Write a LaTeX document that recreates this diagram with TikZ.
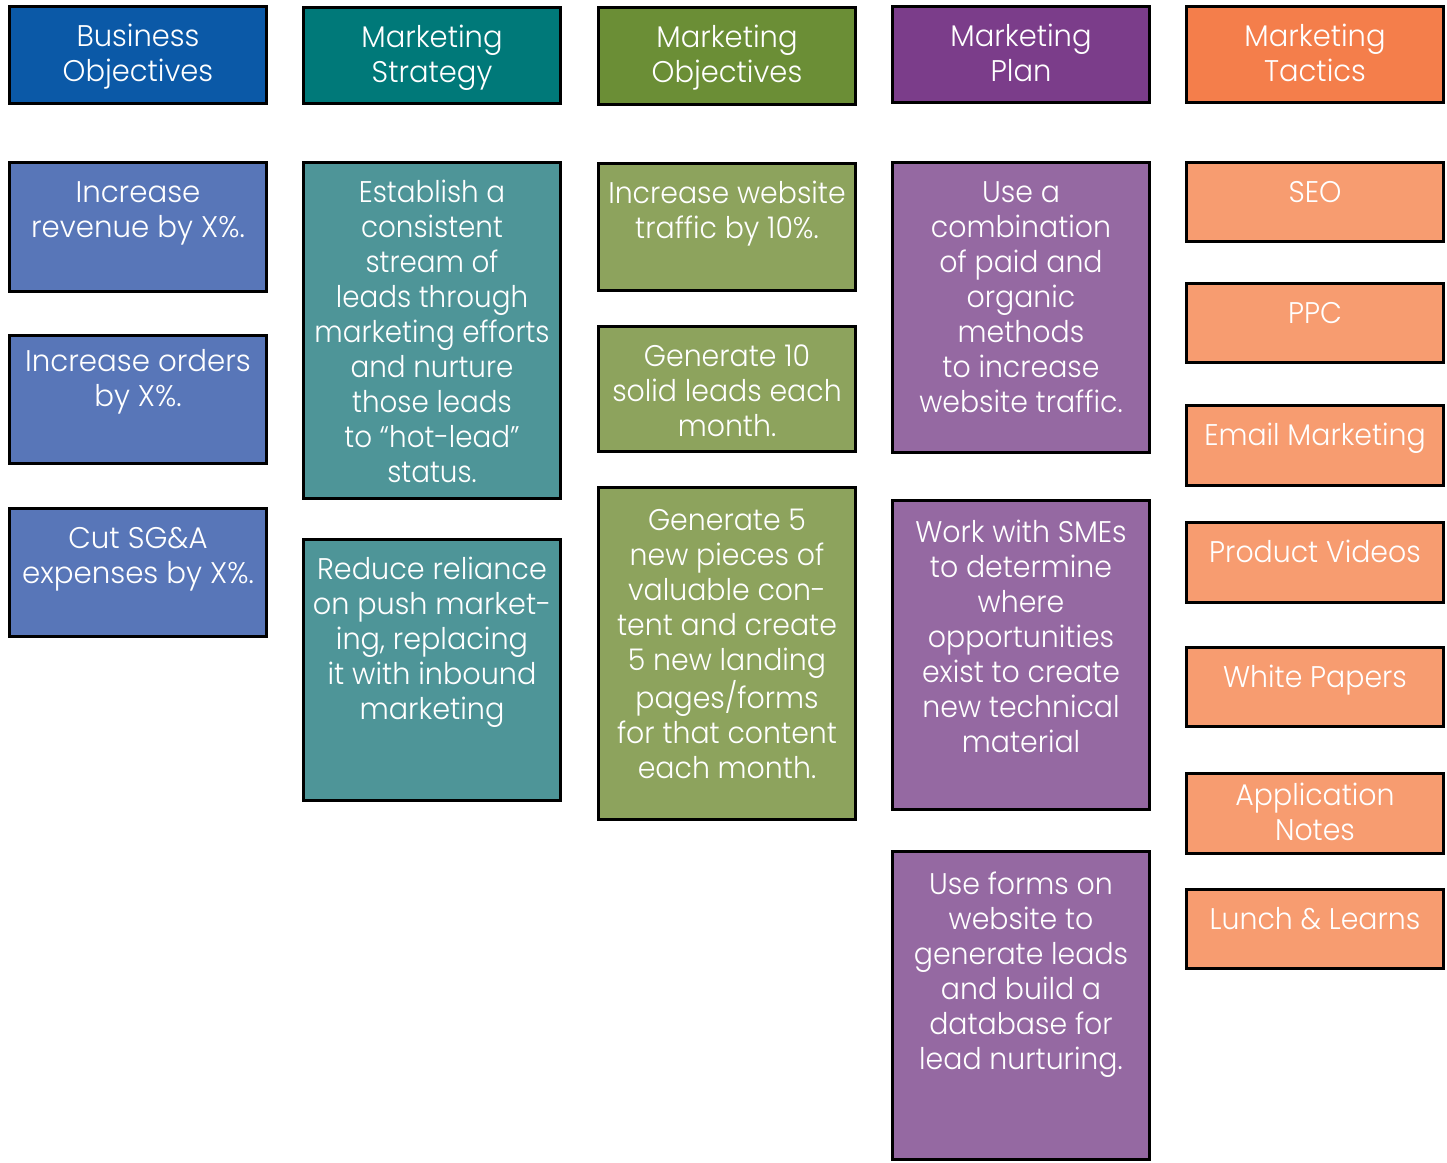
\documentclass[tikz,border=0pt]{standalone}
\usepackage{fontspec}
\setmainfont{Poppins}[UprightFont={* Light}]
\usepackage{graphicx}

\definecolor{hBlue}{HTML}{0B59A7}
\definecolor{hTeal}{HTML}{007979}
\definecolor{hGreen}{HTML}{6B8E36}
\definecolor{hPurple}{HTML}{7B3D8A}
\definecolor{hOrange}{HTML}{F47E4B}
\definecolor{bBlue}{HTML}{5876B8}
\definecolor{bTeal}{HTML}{4E9598}
\definecolor{bGreen}{HTML}{8DA35D}
\definecolor{bPurple}{HTML}{9569A2}
\definecolor{bOrange}{HTML}{F79C70}

\tikzset{
  cellbox/.style={draw=black, line width=0.06cm, inner sep=0pt, anchor=north west},
  celltext/.style={text=white, inner sep=0pt, anchor=north, align=center,
    font=\fontsize{17}{19.9}\selectfont},
}

% [#1 extra text drop], #2 name, #3 x1, #4 y1, #5 x2, #6 y2, #7 fill,
% #8 horizontal squeeze, #9 text
\newcommand\cell[9][0]{%
  \node[cellbox, fill=#7, minimum width={(#5-#3-3)*0.02cm},
        minimum height={(#6-#4-3)*0.02cm}] (#2) at (#3,#4) {};
  \node[celltext] (#2-t) at ([yshift={-0.32cm-(#1)*0.02cm}]#2.north)
    {\scalebox{#8}[1]{\begin{tabular}{@{}c@{}}\rule{0pt}{0.5cm}#9\end{tabular}}};
}

\begin{document}
\begin{tikzpicture}[x=0.02cm, y=-0.02cm]
\useasboundingbox (0,0) rectangle (1447,1163);

% column headings
\cell{h1}{8}{5}{268}{105}{hBlue}{0.97}{Business\\Objectives}
\cell{h2}{302}{6}{562}{105}{hTeal}{0.97}{Marketing\\Strategy}
\cell{h3}{597}{6}{857}{106}{hGreen}{0.97}{Marketing\\Objectives}
\cell{h4}{891}{5}{1151}{104}{hPurple}{0.97}{Marketing\\Plan}
\cell{h5}{1185}{5}{1445}{104}{hOrange}{0.97}{Marketing\\Tactics}

% business objectives
\cell{bo1}{8}{161}{268}{293}{bBlue}{0.98}{Increase\\revenue by X\%.}
\cell[-4]{bo2}{8}{334}{268}{465}{bBlue}{0.98}{Increase orders\\by X\%.}
\cell{bo3}{8}{507}{268}{638}{bBlue}{0.98}{Cut SG\&A\\expenses by X\%.}

% marketing strategy
\cell{ms1}{302}{161}{562}{500}{bTeal}{0.93}{Establish a\\consistent\\stream of\\leads through\\marketing efforts\\and nurture\\those leads\\to “hot-lead”\\status.}
\cell{ms2}{302}{538}{562}{802}{bTeal}{0.96}{Reduce reliance\\on push market-\\ing, replacing\\it with inbound\\marketing}

% marketing objectives
\cell{mo1}{597}{162}{857}{292}{bGreen}{0.95}{Increase website\\traffic by 10\%.}
\cell{mo2}{597}{325}{857}{453}{bGreen}{0.95}{Generate 10\\solid leads each\\month.}
\cell[3]{mo3}{597}{486}{857}{821}{bGreen}{0.95}{Generate 5\\new pieces of\\valuable con-\\tent and create\\5 new landing\\pages/forms\\for that content\\each month.}

% marketing plan
\cell{mp1}{891}{161}{1151}{454}{bPurple}{0.95}{Use a\\combination\\of paid and\\organic\\methods\\to increase\\website traffic.}
\cell[2]{mp2}{891}{499}{1151}{811}{bPurple}{0.95}{Work with SMEs\\to determine\\where\\opportunities\\exist to create\\new technical\\material}
\cell[3]{mp3}{891}{850}{1151}{1161}{bPurple}{0.95}{Use forms on\\website to\\generate leads\\and build a\\database for\\lead nurturing.}

% marketing tactics
\cell{mt1}{1185}{161}{1445}{243}{bOrange}{0.95}{SEO}
\cell{mt2}{1185}{282}{1445}{364}{bOrange}{0.95}{PPC}
\cell{mt3}{1185}{404}{1445}{487}{bOrange}{0.95}{Email Marketing}
\cell{mt4}{1185}{521}{1445}{604}{bOrange}{0.95}{Product Videos}
\cell{mt5}{1185}{646}{1445}{728}{bOrange}{0.95}{White Papers}
\cell[-8]{mt6}{1185}{772}{1445}{855}{bOrange}{0.95}{Application\\Notes}
\cell{mt7}{1185}{888}{1445}{970}{bOrange}{0.95}{Lunch \& Learns}
\end{tikzpicture}
\end{document}
